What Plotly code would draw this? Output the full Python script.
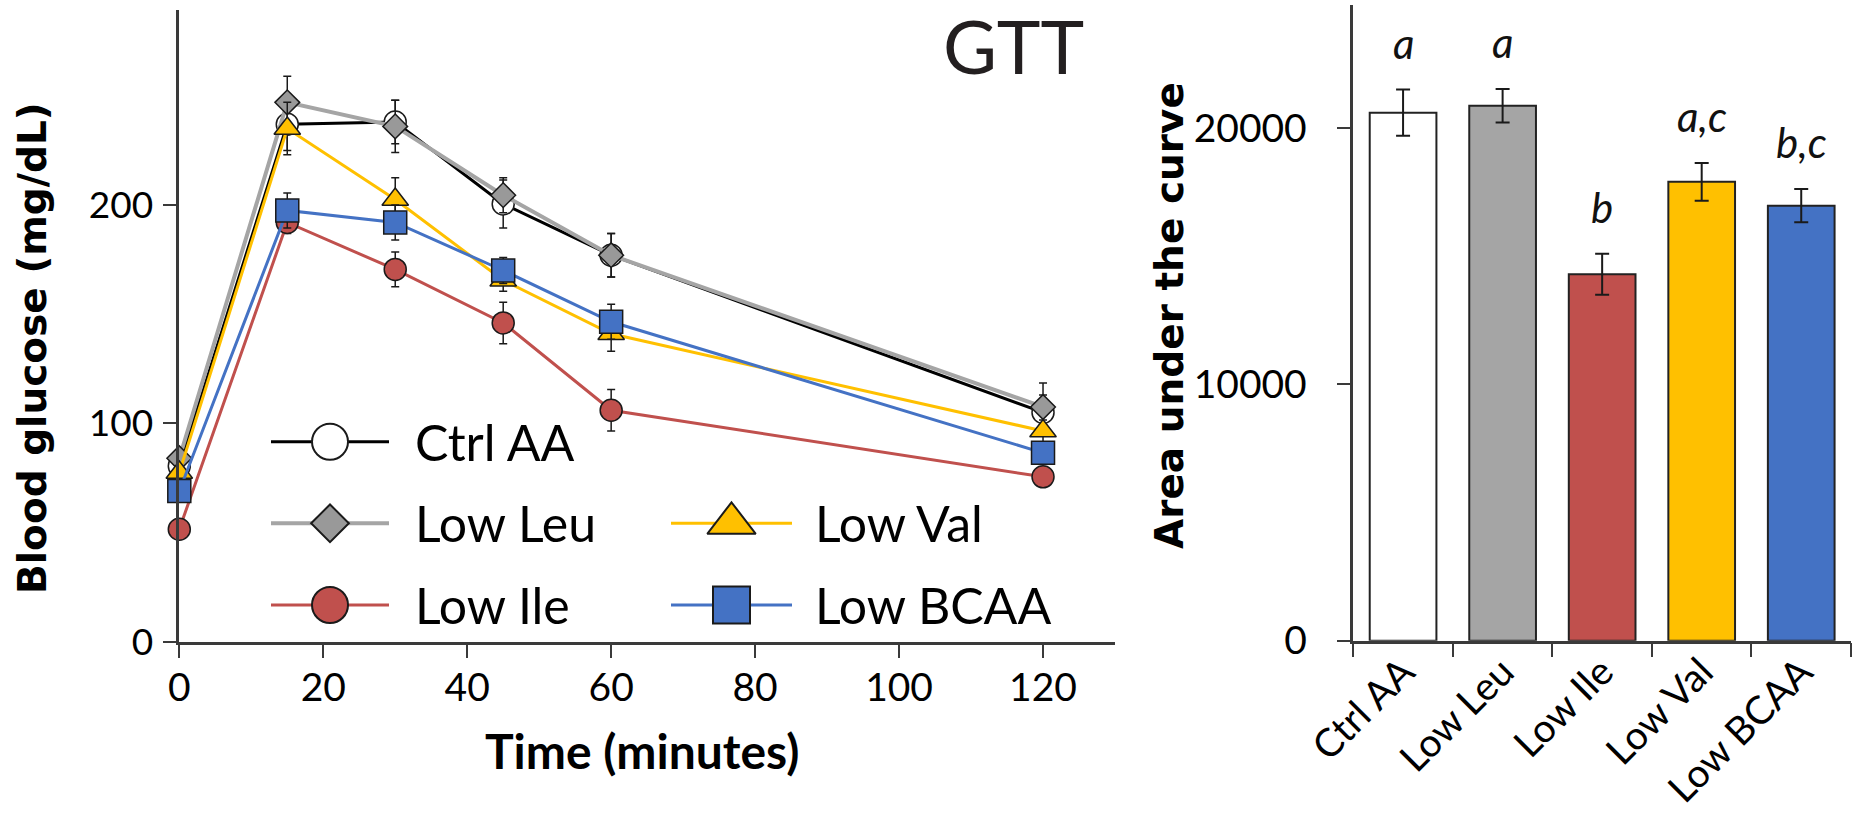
import plotly.graph_objects as go

W, H = 1855, 838

# ---------------- data ----------------
time_min = [0, 15, 30, 45, 60, 120]
groups = ["Ctrl AA", "Low Leu", "Low Ile", "Low Val", "Low BCAA"]

ctrl_aa = [80.5, 237, 238, 200.5, 177, 105]
ctrl_aa_err = [5, 12, 10, 11, 10, 8]
low_leu = [84, 247, 236, 204.5, 177, 107.5]
low_leu_err = [4, 12, 12, 8, 10, 11]
low_ile = [51.5, 192, 170.5, 146, 106, 75.5]
low_ile_err = [3, 5, 8, 9.5, 9.5, 4]
low_val = [77.5, 235, 202.5, 165.5, 141, 96.5]
low_val_err = [4, 12, 10, 5, 8, 5]
low_bcaa = [69, 197.5, 192, 170, 146.5, 86.5]
low_bcaa_err = [4, 8, 8, 6, 8, 5]

auc = [20600, 20870, 14300, 17900, 16970]
auc_err = [900, 650, 800, 740, 650]
letters = ["a", "a", "b", "a,c", "b,c"]

left_yticks = [0, 100, 200]
left_xticks = [0, 20, 40, 60, 80, 100, 120]
right_yticks = [0, 10000, 20000]

# ---------------- styles ----------------
line_colors = ["#000000", "#A5A5A5", "#C0504D", "#FFC000", "#4472C4"]
marker_fill = ["#FFFFFF", "#999999", "#C0504D", "#FFC000", "#4472C4"]
bar_colors = ["#FFFFFF", "#A5A5A5", "#C0504D", "#FFC000", "#4472C4"]
symbols = ["circle", "diamond", "circle", "triangle-up", "square"]
msize = [22, 19, 22, 23, 23]
lwidth = [3, 4, 3, 3, 3]
leg_msize = [36, 29, 36, 42, 37]

series = [ctrl_aa, low_leu, low_ile, low_val, low_bcaa]
series_err = [ctrl_aa_err, low_leu_err, low_ile_err, low_val_err, low_bcaa_err]

AX = "#3a3a3a"
FONT = "Lato"
BOLD = "DejaVu Sans"


def px_x(p):
    return p / W


def px_y(p):
    return (H - p) / H


fig = go.Figure()

# ---- line chart ----
for i, g in enumerate(groups):
    fig.add_trace(go.Scatter(
        x=time_min, y=series[i], mode="lines+markers", name=g,
        line=dict(color=line_colors[i], width=lwidth[i]),
        marker=dict(symbol=symbols[i], size=msize[i], color=marker_fill[i],
                    line=dict(color="#1a1a1a", width=1.5)),
        error_y=dict(type="data", array=series_err[i], color="#1a1a1a",
                     thickness=1.5, width=4),
        cliponaxis=False, showlegend=False,
        xaxis="x", yaxis="y"))

# ---- bar chart ----
fig.add_trace(go.Bar(
    x=groups, y=auc, width=0.67,
    marker=dict(color=bar_colors, line=dict(color="#222222", width=2)),
    error_y=dict(type="data", array=auc_err, color="#1a1a1a", thickness=2, width=7),
    showlegend=False, xaxis="x2", yaxis="y2"))

for i, g in enumerate(groups):
    fig.add_annotation(x=g, y=auc[i] + auc_err[i], xref="x2", yref="y2",
                       text=letters[i], showarrow=False, yanchor="bottom",
                       yshift=20,
                       font=dict(family=FONT, size=42, color="#111111",
                                 style="italic"))

# ---- custom legend on a pixel overlay axis ----
leg_rows = [441.7, 523.3, 523.3, 605, 605]
leg_cols = [0, 0, 1, 0, 1]
order = [0, 1, 3, 2, 4]  # Ctrl, Leu, Val, Ile, BCAA
col_line = [(271, 389), (671, 792)]
col_mark = [330, 731.5]
col_text = [413, 813]
for k, gi in enumerate(order):
    c = leg_cols[k]
    yy = leg_rows[k]
    fig.add_trace(go.Scatter(
        x=list(col_line[c]), y=[yy, yy], mode="lines",
        line=dict(color=line_colors[gi], width=lwidth[gi]),
        showlegend=False, hoverinfo="skip", cliponaxis=False,
        xaxis="x3", yaxis="y3"))
    fig.add_trace(go.Scatter(
        x=[col_mark[c]], y=[yy], mode="markers",
        marker=dict(symbol=symbols[gi], size=leg_msize[gi], color=marker_fill[gi],
                    line=dict(color="#1a1a1a", width=2)),
        showlegend=False, hoverinfo="skip", cliponaxis=False,
        xaxis="x3", yaxis="y3"))
    fig.add_annotation(x=px_x(col_text[c]), y=px_y(yy), xref="paper", yref="paper",
                       text=groups[gi], showarrow=False, xanchor="left",
                       yanchor="middle",
                       font=dict(family=FONT, size=50, color="#000000"))

# ---- titles ----
fig.add_annotation(x=px_x(1085), y=1, xref="paper", yref="paper",
                   text="GTT", showarrow=False, xanchor="right", yanchor="top",
                   borderpad=0,
                   font=dict(family=FONT, size=74, color="#231f20"))
fig.add_annotation(x=px_x(642), y=px_y(750), xref="paper", yref="paper",
                   text="<b>Time (minutes)</b>", showarrow=False,
                   xanchor="center", yanchor="middle",
                   font=dict(family=FONT, size=48, color="#000000"))
fig.add_annotation(x=px_x(33), y=px_y(348), xref="paper", yref="paper",
                   text="<b>Blood glucose (mg/dL)</b>", showarrow=False,
                   textangle=-90, xanchor="center", yanchor="middle",
                   font=dict(family=BOLD, size=39, color="#000000"))
fig.add_annotation(x=px_x(1170), y=px_y(316), xref="paper", yref="paper",
                   text="<b>Area under the curve</b>", showarrow=False,
                   textangle=-90, xanchor="center", yanchor="middle",
                   font=dict(family=BOLD, size=39, color="#000000"))

axis_common = dict(showline=True, linecolor=AX, linewidth=2.5, ticks="outside",
                   tickcolor=AX, tickwidth=2, ticklen=14, showgrid=False,
                   zeroline=False, mirror=False, automargin=False)

fig.update_layout(
    width=W, height=H,
    margin=dict(l=0, r=0, t=0, b=0, pad=0, autoexpand=False),
    paper_bgcolor="white", plot_bgcolor="rgba(0,0,0,0)",
    font=dict(family=FONT, color="#000000"),
    xaxis=dict(domain=[px_x(179.3), px_x(1115)], range=[0, 130],
               tickvals=left_xticks, anchor="y",
               tickfont=dict(family=FONT, size=39), ticklabelstandoff=-4,
               **axis_common),
    yaxis=dict(domain=[px_y(641.7), px_y(10)], range=[0, 289.3],
               tickvals=left_yticks, anchor="x",
               tickfont=dict(family=FONT, size=37), ticklabelstandoff=2,
               **axis_common),
    xaxis2=dict(domain=[px_x(1353.3), px_x(1851)], range=[-0.5, 4.5],
                type="category", tickson="boundaries", anchor="y2",
                tickangle=-45, tickfont=dict(family=FONT, size=39),
                ticklabelstandoff=-10,
                **axis_common),
    yaxis2=dict(domain=[px_y(640.7), px_y(5)], range=[0, 24800],
                tickvals=right_yticks, ticktext=[str(v) for v in right_yticks],
                anchor="x2",
                tickfont=dict(family=FONT, size=39), ticklabelstandoff=22,
                **axis_common),
    xaxis3=dict(domain=[0, 1], range=[0, W], visible=False, anchor="y3",
                fixedrange=True),
    yaxis3=dict(domain=[0, 1], range=[H, 0], visible=False, anchor="x3",
                fixedrange=True),
)

fig.write_html("out.html")
